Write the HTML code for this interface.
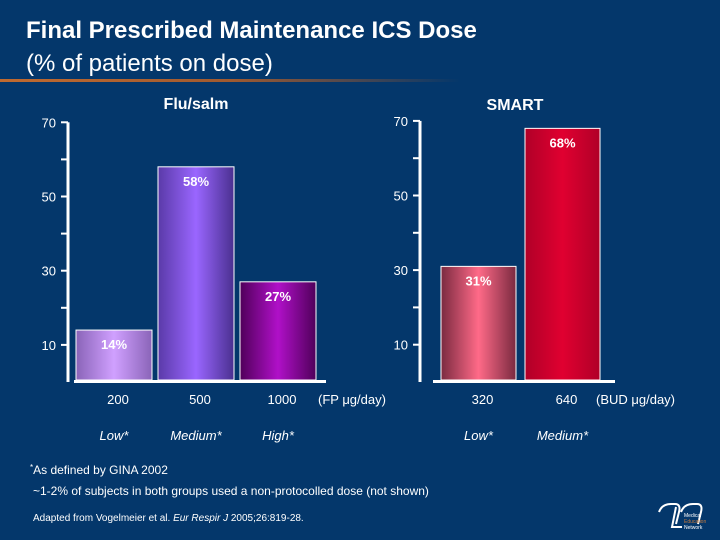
<!DOCTYPE html>
<html><head><meta charset="utf-8"><style>
body{margin:0;width:720px;height:540px;background:#04376b;overflow:hidden;font-family:"Liberation Sans",sans-serif;color:#fff}
svg{display:block}
</style></head><body>
<svg width="720" height="540" xmlns="http://www.w3.org/2000/svg" id="chart">
<defs>
<linearGradient id="rule" x1="0" x2="1"><stop offset="0" stop-color="#c06a30"/><stop offset="0.5" stop-color="#a05a30"/><stop offset="1" stop-color="#04376b"/></linearGradient>
<linearGradient id="g0" x1="0" x2="1"><stop offset="0" stop-color="#8a64b8"/><stop offset="0.5" stop-color="#d0a0ff"/><stop offset="1" stop-color="#8a64b8"/></linearGradient>
<linearGradient id="g1" x1="0" x2="1"><stop offset="0" stop-color="#5a3aa8"/><stop offset="0.5" stop-color="#9a66ff"/><stop offset="1" stop-color="#4a3090"/></linearGradient>
<linearGradient id="g2" x1="0" x2="1"><stop offset="0" stop-color="#50005a"/><stop offset="0.5" stop-color="#b010c8"/><stop offset="1" stop-color="#50005a"/></linearGradient>
<linearGradient id="g3" x1="0" x2="1"><stop offset="0" stop-color="#7a2a40"/><stop offset="0.5" stop-color="#ff6a88"/><stop offset="1" stop-color="#7a2a40"/></linearGradient>
<linearGradient id="g4" x1="0" x2="1"><stop offset="0" stop-color="#b00028"/><stop offset="0.5" stop-color="#e00030"/><stop offset="1" stop-color="#b00028"/></linearGradient>
</defs>
<text x="26" y="38" font-size="24" font-weight="bold" fill="#fff">Final Prescribed Maintenance ICS Dose</text>
<text x="26" y="71" font-size="24" fill="#fff">(% of patients on dose)</text>
<rect x="0" y="79" width="460" height="3" fill="url(#rule)"/>
<g id="plots"></g>
<text x="30" y="474" font-size="12" fill="#fff"><tspan font-size="8" dy="-4">*</tspan><tspan dy="4">As defined by GINA 2002</tspan></text>
<text x="33" y="495" font-size="12" fill="#fff">~1-2% of subjects in both groups used a non-protocolled dose (not shown)</text>
<text x="33" y="521" font-size="10" fill="#fff">Adapted from Vogelmeier et al. <tspan font-style="italic">Eur Respir J</tspan> 2005;26:819-28.</text>
<g fill="none" stroke="#fff" stroke-width="2">
<path d="M659 512 q3-8 12-8 h4 q6 0 4 8 l-3 12"/><path d="M681 512 q3-8 12-8 h4 q6 0 4 8 l-3 12"/><path d="M676 507 l-4 20 h10"/>
<text x="684" y="517" font-size="5" fill="#fff" stroke="none">Medical</text>
<text x="684" y="523" font-size="5" fill="#c07a40" stroke="none">Education</text>
<text x="684" y="529" font-size="5" fill="#fff" stroke="none">Network</text>
</g>
</svg>
<script>
const ticks=[10,30,50,70];
const leftCats=["200","500","1000"];
const leftLevels=["Low*","Medium*","High*"];
const leftVals=[14,58,27];
const rightCats=["320","640"];
const rightLevels=["Low*","Medium*"];
const rightVals=[31,68];
const NS="http://www.w3.org/2000/svg";
const root=document.getElementById('plots');
function mk(t,a,txt){const e=document.createElementNS(NS,t);for(const k in a)e.setAttribute(k,a[k]);if(txt!==undefined)e.textContent=txt;root.appendChild(e);return e;}
function panel(o){
  const y=v=>o.y0-(v*o.k);
  let e=mk('rect',{x:o.ax-1.5,y:y(70),width:3,height:o.y0-y(70),fill:'#fff'});
  
  
  for(let v=10;v<=70;v+=10){
    e=mk('rect',{x:o.ax-7,y:y(v)-1,width:7,height:2,fill:'#fff'});
    
    
  }
  ticks.forEach(v=>{
    e=mk('text',{x:o.ax-12,y:y(v)+5,'text-anchor':'end','font-size':13,fill:'#fff'},String(v));
    
    
  });
  e=mk('rect',{x:o.ax+o.bl,y:o.y0-2,width:o.blw,height:3,fill:'#fff'});
  
  
  o.vals.forEach((v,i)=>{
    const x=o.ax+o.off+i*(o.bw+o.gap);
    e=mk('rect',{x:x,y:y(v),width:o.bw,height:o.y0-2-y(v),fill:'url(#'+o.grads[i]+')',stroke:'#fff','stroke-width':1});
    
    
    e=mk('text',{x:x+o.bw/2,y:y(v)+19,'text-anchor':'middle','font-size':13,'font-weight':'bold',fill:'#fff'},v+'%');
    
    
    e=mk('text',{x:x+o.bw/2+4,y:404,'text-anchor':'middle','font-size':13,fill:'#fff'},o.cats[i]);
    
    
    e=mk('text',{x:x+o.bw/2,y:440,'text-anchor':'middle','font-size':13,'font-style':'italic',fill:'#fff'},o.levels[i]);
    
    
  });
  e=mk('text',{x:o.tx,y:o.ty,'text-anchor':'middle','font-size':16,'font-weight':'bold',fill:'#fff'},o.title);
  
  
}
panel({name:'flu-salm',ax:68,y0:382,k:3.71,bw:76,gap:6,off:8,bl:6,blw:252,vals:leftVals,cats:leftCats,levels:leftLevels,grads:['g0','g1','g2'],title:'Flu/salm',tx:196,ty:109});
panel({name:'smart',ax:420,y0:382,k:3.73,bw:75,gap:9,off:21,bl:13,blw:182,vals:rightVals,cats:rightCats,levels:rightLevels,grads:['g3','g4'],title:'SMART',tx:515,ty:110});
let u=mk('text',{x:318,y:404,'font-size':13,fill:'#fff'},'(FP \u03bcg/day)');


u=mk('text',{x:596,y:404,'font-size':13,fill:'#fff'},'(BUD \u03bcg/day)');


</script>
</body></html>
